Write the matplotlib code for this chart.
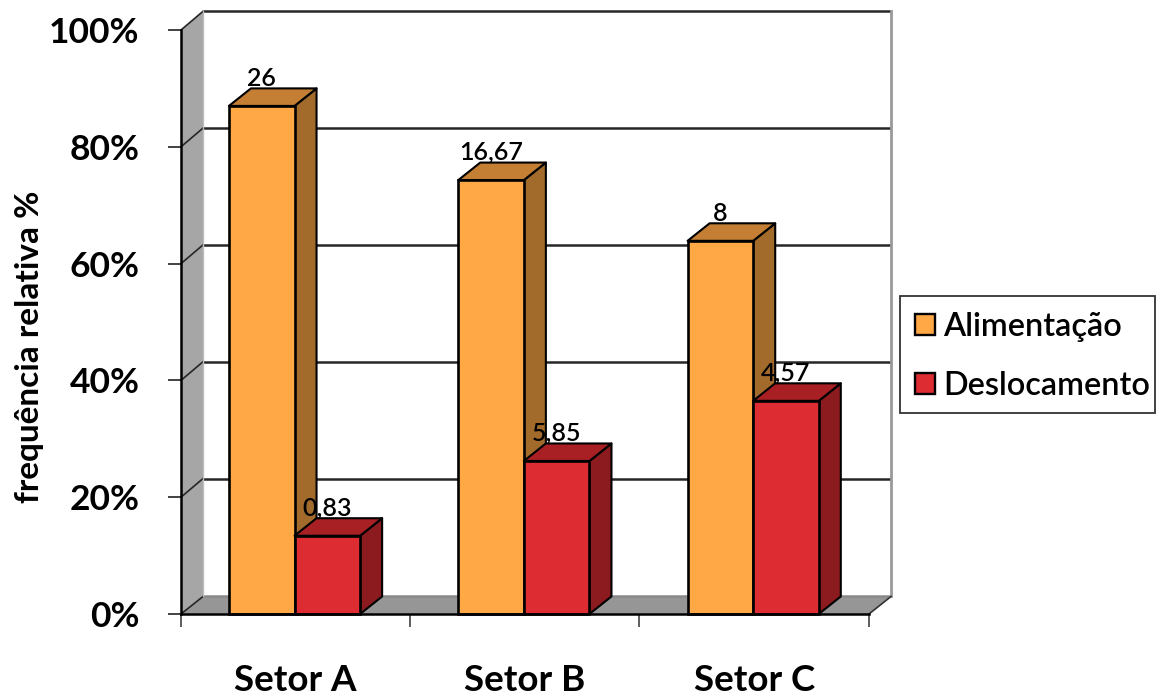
import matplotlib
matplotlib.use("Agg")
import matplotlib.pyplot as plt
from matplotlib.patches import Polygon, Patch, Rectangle
from matplotlib.ticker import FixedLocator, FixedFormatter

plt.rcParams["font.family"] = ["Lato", "DejaVu Sans"]

sectors = ["Setor A", "Setor B", "Setor C"]
alimentacao = [87.0, 74.3, 63.9]
deslocamento = [13.4, 26.2, 36.5]
alimentacao_labels = ["26", "16,67", "8"]
deslocamento_labels = ["0,83", "5,85", "4,57"]
y_ticks = [0, 20, 40, 60, 80, 100]

W, H = 1157, 698
fig = plt.figure(figsize=(W / 100, H / 100), dpi=100, facecolor="white")
ax = fig.add_axes([181 / W, 1 - 614 / H, 688 / W, 584 / H])
ax.set_xlim(0, 3)
ax.set_ylim(0, 100)
ax.patch.set_visible(False)

# Oblique depth of the fake 3D box, in data units
DX = 0.096
DY = 3.0
BAR_W = 0.286
BAR_OFFSET = 0.209


def poly(points, face, edge="none", lw=0.0, z=1):
    ax.add_patch(Polygon(points, closed=True, facecolor=face, edgecolor=edge,
                         linewidth=lw, zorder=z, clip_on=False, joinstyle="round"))


# Side wall and floor
poly([(0, 0), (DX, DY), (DX, 100 + 3.2), (0, 100)], "#A6A6A6", z=1)
poly([(0, 0), (3, 0), (3 + DX, DY), (DX, DY)], "#969696", z=1)

# Gridlines on the back wall, running down the side wall
for v in y_ticks:
    back_color = "#262626" if v > 0 else "#8a8a8a"
    ax.plot([DX, 3 + DX], [v + 3.2, v + 3.2] if v > 0 else [DY, DY], color=back_color,
            lw=1.8, zorder=2, clip_on=False, solid_capstyle="butt")
    ax.plot([0, DX], [v, v + 3.2] if v > 0 else [0, DY], color="#262626", lw=1.2,
            zorder=2, clip_on=False)
ax.plot([3 + DX, 3 + DX], [DY, 100 + 3.2], color="#999999", lw=2.0, zorder=2, clip_on=False)
ax.plot([DX, DX], [DY, 100 + 3.2], color="#bdbdbd", lw=1.0, zorder=2, clip_on=False)
ax.plot([3, 3 + DX], [0, DY], color="#333333", lw=1.2, zorder=2, clip_on=False)


def box(x, value, front, top, side, z):
    w = BAR_W
    poly([(x + w, 0), (x + w + DX, DY), (x + w + DX, value + DY), (x + w, value)],
         side, "black", 1.5, z)
    poly([(x, value), (x + w, value), (x + w + DX, value + DY), (x + DX, value + DY)],
         top, "black", 1.5, z)
    ax.bar(x, value, width=w, align="edge", color=front, edgecolor="black",
           linewidth=1.9, zorder=z, clip_on=False)


z = 3
for i in range(len(sectors)):
    x_a = i + BAR_OFFSET
    x_d = x_a + BAR_W
    box(x_a, alimentacao[i], "#FFA845", "#C47F35", "#A26B2C", z)
    box(x_d, deslocamento[i], "#DE2C33", "#A92024", "#8C1B20", z + 1)
    ax.annotate(alimentacao_labels[i], (x_a + BAR_W / 2, alimentacao[i] + DY),
                xytext=(0, -1), textcoords="offset points", ha="center", va="bottom",
                fontsize=18, fontweight="semibold", color="black", zorder=30,
                annotation_clip=False)
    ax.annotate(deslocamento_labels[i], (x_d + BAR_W / 2, deslocamento[i] + DY),
                xytext=(0, -1), textcoords="offset points", ha="center", va="bottom",
                fontsize=18, fontweight="semibold", color="black", zorder=30,
                annotation_clip=False)
    z += 2

for s in ["top", "right"]:
    ax.spines[s].set_visible(False)
for s in ["left", "bottom"]:
    ax.spines[s].set_linewidth(1.8)
    ax.spines[s].set_color("black")
    ax.spines[s].set_zorder(20)

ax.set_yticks(y_ticks)
ax.set_yticklabels([f"{v}%" for v in y_ticks], fontsize=25.5, fontweight="bold")
ax.tick_params(axis="y", length=9.4, width=1.2, pad=20.5, color="#222222")

# Major x ticks separate the groups; the sector names sit on minor ticks
ax.xaxis.set_major_locator(FixedLocator([0, 0.997, 1.995, 3]))
ax.xaxis.set_major_formatter(FixedFormatter(["", "", "", ""]))
ax.xaxis.set_minor_locator(FixedLocator([0.5, 1.5, 2.5]))
ax.xaxis.set_minor_formatter(FixedFormatter(sectors))
ax.tick_params(axis="x", which="major", length=9.4, width=1.1, color="#333333")
ax.tick_params(axis="x", which="minor", length=0, pad=36, labelsize=26.5)
for lab in ax.get_xticklabels(minor=True):
    lab.set_fontweight("bold")

ax.set_ylabel("frequência relativa %", fontsize=24, fontweight="bold")
ax.yaxis.set_label_coords((44 - 181) / 688, (614 - 347) / 584)

# Legend frame runs to a fixed width, with the entries placed inside it
fig.add_artist(Rectangle((899.5 / W, 1 - 413 / H), 255.5 / W, 117 / H,
                         transform=fig.transFigure, facecolor="white",
                         edgecolor="#333333", linewidth=1.3, zorder=25))
handles = [Patch(facecolor="#FFA845", edgecolor="black", linewidth=1.7, label="Alimentação"),
           Patch(facecolor="#DE2C33", edgecolor="black", linewidth=1.7, label="Deslocamento")]
leg = fig.legend(handles=handles, loc="upper left",
                 bbox_to_anchor=(915 / W, 1 - 312 / H), bbox_transform=fig.transFigure,
                 frameon=False, fontsize=23.3, handlelength=0.62, handleheight=0.62,
                 handletextpad=0.24, labelspacing=0.9, borderpad=0, borderaxespad=0)
leg.set_zorder(26)
for t in leg.get_texts():
    t.set_fontweight("semibold")

fig.savefig("out.png", dpi=100)
